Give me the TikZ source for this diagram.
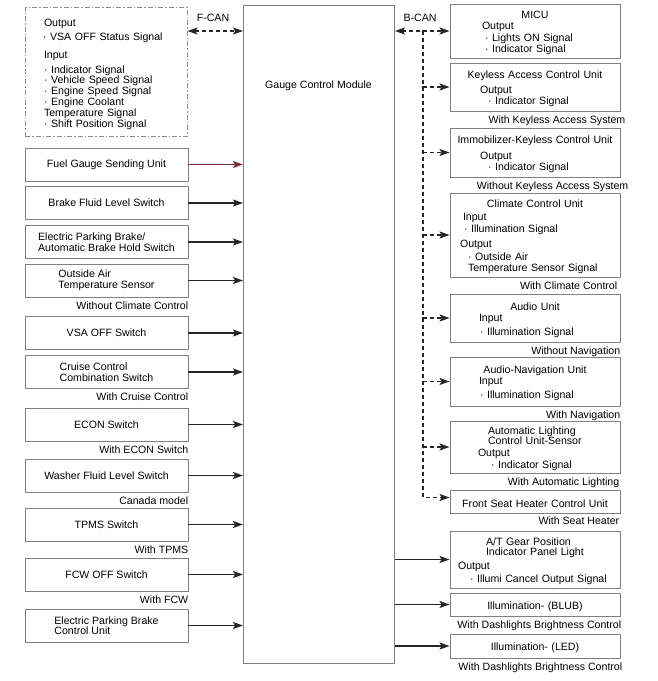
\documentclass[tikz,border=0pt]{standalone}
\usepackage{fontspec}
\setmainfont{Liberation Sans}
\usetikzlibrary{arrows.meta,positioning,calc}

\newcommand\boxtitle[1]{\makebox[170pt]{#1}}
\newcommand\ind[1]{\hspace*{#1pt}}

\tikzset{
  every node/.style={font=\fontsize{10.6pt}{10.5pt}\selectfont},
  unit/.style={draw=black!50, line width=0.9pt, minimum width=163pt, minimum height=33pt,
               align=left, inner sep=0pt},
  rbox/.style={draw=black!50, line width=0.9pt, minimum width=170pt, text width=170pt,
               align=left, inner sep=0pt, execute at begin node={\rule{0pt}{11.5pt}}},
  canbox/.style={draw=black!45, line width=0.9pt, dash pattern=on 5pt off 2pt on 1.5pt off 2pt,
               text width=162pt, minimum height=129pt, align=left, inner sep=0pt,
               execute at begin node={\rule{0pt}{12.5pt}}},
  note/.style={inner sep=0pt},
  sig/.style={->, line width=1.3pt, draw=black!85},
  can/.style={sig, dash pattern=on 4pt off 3pt},
  >={Stealth[length=10pt,width=7pt,inset=2pt]},
}
\definecolor{fuelred}{RGB}{120,50,55}

\begin{document}
\begin{tikzpicture}[x=1pt,y=-1pt]
\useasboundingbox (0,0) rectangle (658,681);

% control module
\node [draw=black!50, line width=0.9pt, minimum width=151pt, minimum height=658pt,
       anchor=north west, inner sep=0pt] (gcm) at (243,5) {};
\node (gcmt) at (318.5,85.5) {Gauge Control Module};

% F-CAN side
\node [canbox] (fcan) at (106,71.5) {%
  \ind{19}Output\\[3.5pt]
  \ind{18}· VSA OFF Status Signal\\[7.5pt]
  \ind{19}Input\\[4.5pt]
  \ind{19}· Indicator Signal\\
  \ind{19}· Vehicle Speed Signal\\[0.5pt]
  \ind{19}· Engine Speed Signal\\[0.5pt]
  \ind{19}· Engine Coolant\\
  \ind{19}Temperature Signal\\[0.5pt]
  \ind{19}· Shift Position Signal};

% inputs
\node [unit] (fuel)  at (106.5,164.5) {Fuel Gauge Sending Unit};
\node [unit] (bfl)   at (106.5,203)   {Brake Fluid Level Switch};
\node [unit] (epb)   at (106.5,242)   {Electric Parking Brake/\\Automatic Brake Hold Switch};
\node [unit] (oat)   at (106.5,280.5) {Outside Air\\Temperature Sensor};
\node [unit] (vsa)   at (106.5,333)   {VSA OFF Switch};
\node [unit] (ccs)   at (106.5,372)   {Cruise Control\\Combination Switch};
\node [unit] (econ)  at (106.5,424.5) {ECON Switch};
\node [unit] (wfl)   at (106.5,475.5) {Washer Fluid Level Switch};
\node [unit] (tpms)  at (106.5,524.5) {TPMS Switch};
\node [unit] (fcw)   at (106.5,574.5) {FCW OFF Switch};
\node [unit] (epbcu) at (106.5,625.5) {Electric Parking Brake\\Control Unit};

\node [note, below left=4pt and 0pt of oat.south east]  (oatl)  {Without Climate Control};
\node [note, below left=4pt and 0pt of ccs.south east]  (ccsl)  {With Cruise Control};
\node [note, below left=4pt and 0pt of econ.south east] (econl) {With ECON Switch};
\node [note, below left=4pt and 0pt of wfl.south east]  (wfll)  {Canada model};
\node [note, below left=4pt and 0pt of tpms.south east] (tpmsl) {With TPMS};
\node [note, below left=4pt and 0pt of fcw.south east]  (fcwl)  {With FCW};

% B-CAN side
\node [rbox, minimum height=54pt] (micu) at (535,31) {%
  \boxtitle{MICU}\\[1pt]
  \ind{32}Output\\[1pt]
  \ind{35}· Lights ON Signal\\[1pt]
  \ind{35}· Indicator Signal};
\node [rbox, minimum height=48pt] (kac) at (535,87) {%
  \boxtitle{Keyless Access Control Unit}\\[5pt]
  \ind{30}Output\\[0.5pt]
  \ind{38}· Indicator Signal};
\node [rbox, minimum height=49pt] (imm) at (535,152.5) {%
  \boxtitle{Immobilizer-Keyless Control Unit}\\[5pt]
  \ind{30}Output\\[0.5pt]
  \ind{38}· Indicator Signal};
\node [rbox, minimum height=84pt] (clim) at (535,235) {%
  \boxtitle{Climate Control Unit}\\[2.5pt]
  \ind{13}Input\\[1.5pt]
  \ind{14}· Illumination Signal\\[4.5pt]
  \ind{10}Output\\[2.5pt]
  \ind{18}· Outside Air\\
  \ind{18}Temperature Sensor Signal};
\node [rbox, minimum height=48pt] (aud) at (535,318) {%
  \boxtitle{Audio Unit}\\[0.5pt]
  \ind{29}Input\\[3.5pt]
  \ind{30}· Illumination Signal};
\node [rbox, minimum height=49pt] (nav) at (535,381.5) {%
  \boxtitle{Audio-Navigation Unit}\\[0.5pt]
  \ind{29}Input\\[3.5pt]
  \ind{30}· Illumination Signal};
\node [rbox, minimum height=52pt] (alc) at (535,447) {%
  \ind{38}Automatic Lighting\\
  \ind{38}Control Unit-Sensor\\[1.5pt]
  \ind{28}Output\\[1.5pt]
  \ind{41}· Indicator Signal};
\node [rbox, minimum height=23pt] (fsh) at (535,501.5) {\boxtitle{Front Seat Heater Control Unit}};

% outputs
\node [rbox, minimum height=57pt] (atg) at (535,559.5) {%
  \ind{36}A/T Gear Position\\
  \ind{36}Indicator Panel Light\\[3.5pt]
  \ind{8}Output\\[2.5pt]
  \ind{20}· Illumi Cancel Output Signal};
\node [rbox, minimum height=23pt] (blub) at (535,604.5) {\boxtitle{Illumination- (BLUB)}};
\node [rbox, minimum height=24pt] (led)  at (535,646)   {\boxtitle{Illumination- (LED)}};

\node [note, below left=4pt and -5pt of kac.south east]  (kacl)  {With Keyless Access System};
\node [note, below left=4pt and -8pt of imm.south east]  (imml)  {Without Keyless Access System};
\node [note, below left=4pt and 3pt of clim.south east]  (climl) {With Climate Control};
\node [note, below left=4pt and 0pt of aud.south east]   (audl)  {Without Navigation};
\node [note, below left=4pt and 0pt of nav.south east]   (navl)  {With Navigation};
\node [note, below left=4pt and 1pt of alc.south east]   (alcl)  {With Automatic Lighting};
\node [note, below left=3pt and 1pt of fsh.south east]   (fshl)  {With Seat Heater};
\node [note, below left=4pt and -1pt of blub.south east] (blubl) {With Dashlights Brightness Control};
\node [note, below left=4pt and -2pt of led.south east]  (ledl)  {With Dashlights Brightness Control};

% bus labels
\node (fcanl) at (213,17.5) {F-CAN};
\node (bcanl) at (420,17.5) {B-CAN};

% F-CAN link
\draw [can, <->] (fcan.east |- micu.west) -- (gcm.west |- micu.west);

% B-CAN bus
\coordinate (bx) at (423,0);
\draw [can, <->] (gcm.east |- micu.west) -- (micu.west);
\draw [can] (bx |- micu.west) |- ([yshift=4pt]fsh.west);
\foreach \u in {kac,imm,clim,aud,nav,alc}
  \draw [can] (bx |- \u.west) -- (\u.west);
\foreach \u in {micu,kac,imm,clim,aud,alc}
  \fill [black!85] (bx |- \u.west) circle (1.5pt);

% hard-wired inputs
\draw [sig, draw=fuelred] (fuel.east) -- (gcm.west |- fuel.east);
\foreach \u in {bfl,epb,oat,vsa,ccs,econ,wfl,tpms,fcw,epbcu}
  \draw [sig] (\u.east) -- (gcm.west |- \u.east);

% hard-wired outputs
\foreach \u in {atg,blub,led}
  \draw [sig] (gcm.east |- \u.west) -- (\u.west);
\end{tikzpicture}
\end{document}
